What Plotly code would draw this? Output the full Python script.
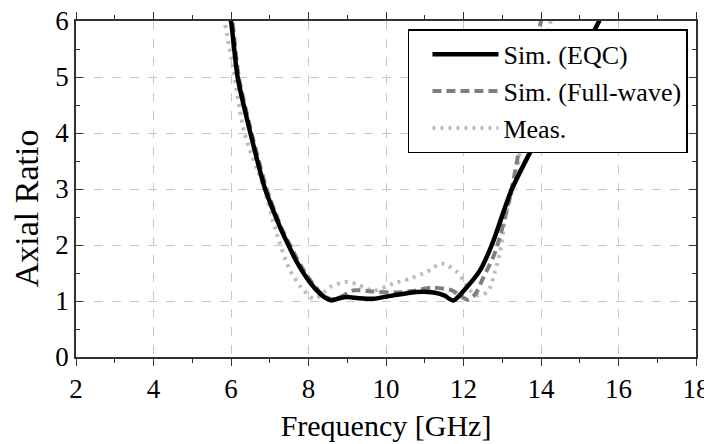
import plotly.graph_objects as go

# ---- data ----
freq_eqc = [5.93, 6.0, 6.17, 6.5, 6.88, 7.1, 7.3, 7.48, 7.65, 7.85, 8.05, 8.3, 8.5, 8.6, 8.8, 9.0, 9.3, 9.68,
            10.19, 10.8, 11.23, 11.5, 11.74, 12.09, 12.43, 12.73, 13.25, 13.94, 14.75, 15.5, 15.6]
ar_eqc = [6.2, 6.0, 5.0, 4.0, 3.0, 2.6, 2.26, 2.0, 1.76, 1.52, 1.32, 1.13, 1.03, 1.01, 1.05, 1.07, 1.05, 1.04,
          1.10, 1.16, 1.15, 1.10, 1.01, 1.25, 1.55, 2.0, 3.0, 3.95, 5.0, 6.0, 6.15]

freq_fw = [5.95, 6.03, 6.2, 6.53, 6.92, 7.13, 7.33, 7.52, 7.7, 7.9, 8.1, 8.35, 8.6, 8.85, 9.15, 9.64, 10.24, 10.7,
           11.19, 11.5, 11.7, 11.95, 12.12, 12.3, 12.52, 12.77, 12.92, 13.18, 13.29, 13.46, 13.7, 14.0, 14.05]
ar_fw = [6.2, 6.0, 5.0, 4.0, 3.0, 2.6, 2.26, 2.0, 1.76, 1.52, 1.32, 1.12, 1.03, 1.08, 1.19, 1.17, 1.15, 1.18,
         1.24, 1.22, 1.19, 1.08, 1.02, 1.12, 1.43, 1.79, 2.1, 2.8, 3.16, 3.81, 4.9, 6.0, 6.15]

freq_meas = [5.85, 6.05, 6.35, 6.84, 7.18, 7.5, 7.79, 8.13, 8.35, 8.56, 8.95, 9.25, 9.5, 9.68, 10.19,
             10.62, 11.05, 11.44, 11.83, 12.0, 12.17, 12.39, 12.6, 12.7, 12.8, 12.95, 13.08, 13.35,
             13.48, 13.9, 14.25, 14.3]
ar_meas = [5.93, 5.18, 3.99, 3.04, 2.2, 1.58, 1.26, 1.04, 1.12, 1.25, 1.34, 1.30, 1.22, 1.18, 1.31,
           1.40, 1.52, 1.67, 1.52, 1.37, 1.19, 1.10, 1.15, 1.26, 1.5, 1.9, 2.5, 3.2,
           3.75, 4.9, 6.0, 6.15]

series_names = ["Sim. (EQC)", "Sim. (Full-wave)", "Meas."]
x_ticks = [2, 4, 6, 8, 10, 12, 14, 16, 18]
y_ticks = [0, 1, 2, 3, 4, 5, 6]
x_title = "Frequency [GHz]"
y_title = "Axial Ratio"

FONT = "Liberation Serif"

fig = go.Figure()
fig.add_trace(go.Scatter(x=freq_meas, y=ar_meas, mode="lines", name=series_names[2],
                         line=dict(color="#bdbdbd", width=4, dash="3px,5px", shape="spline", smoothing=0.7)))
fig.add_trace(go.Scatter(x=freq_fw, y=ar_fw, mode="lines", name=series_names[1],
                         line=dict(color="#7f7f7f", width=4, dash="9px,5px", shape="spline", smoothing=0.7)))
fig.add_trace(go.Scatter(x=freq_eqc, y=ar_eqc, mode="lines", name=series_names[0],
                         line=dict(color="#000000", width=4.5, shape="spline", smoothing=0.7)))

# page body has an 8px margin, so the figure is drawn at (8, 8) in a 712x444 window
fig.update_layout(
    width=704, height=436,
    margin=dict(l=68, r=16, t=13, b=87, autoexpand=False),
    paper_bgcolor="white", plot_bgcolor="white",
    font=dict(family=FONT, color="black"),
    showlegend=True,
    legend=dict(
        x=0.987, xanchor="right", y=0.975, yanchor="top",
        bgcolor="white", bordercolor="black", borderwidth=1.5,
        font=dict(family=FONT, size=26, color="black"),
        traceorder="reversed",
        tracegroupgap=0,
        itemwidth=66,
        indentation=18,
    ),
)

# y-axis title sits a little below the plot's vertical centre in the reference
fig.add_annotation(
    text=y_title, textangle=-90, showarrow=False,
    xref="paper", yref="paper", x=-0.08, y=0.444,
    xanchor="center", yanchor="middle",
    font=dict(family=FONT, size=34, color="black"),
)

fig.update_xaxes(
    range=[2, 18], tickvals=x_ticks, ticktext=[str(v) for v in x_ticks],
    showline=True, linecolor="#333333", linewidth=1.5, mirror="ticks",
    ticks="outside", ticklen=7, tickcolor="#333333", tickwidth=1.2,
    minor=dict(dtick=1, ticks="outside", ticklen=4, tickcolor="#333333", showgrid=False),
    showgrid=True, gridcolor="#c8c8c8", griddash="dash", gridwidth=1,
    zeroline=False, automargin=False, ticklabeloverflow="allow",
    tickfont=dict(family=FONT, size=27, color="black"),
    title=dict(text=x_title, font=dict(family=FONT, size=30, color="black"), standoff=12),
)
fig.update_yaxes(
    range=[0, 6], tickvals=y_ticks, ticktext=[str(v) for v in y_ticks],
    showline=True, linecolor="#333333", linewidth=1.5, mirror="ticks",
    ticks="inside", ticklen=7, tickcolor="#333333", tickwidth=1.2,
    minor=dict(dtick=0.5, ticks="inside", ticklen=4, tickcolor="#333333", showgrid=False),
    showgrid=True, gridcolor="#c8c8c8", griddash="dash", gridwidth=1,
    zeroline=False, automargin=False, ticklabeloverflow="allow",
    tickfont=dict(family=FONT, size=27, color="black"),
)

fig.write_html("out.html")
